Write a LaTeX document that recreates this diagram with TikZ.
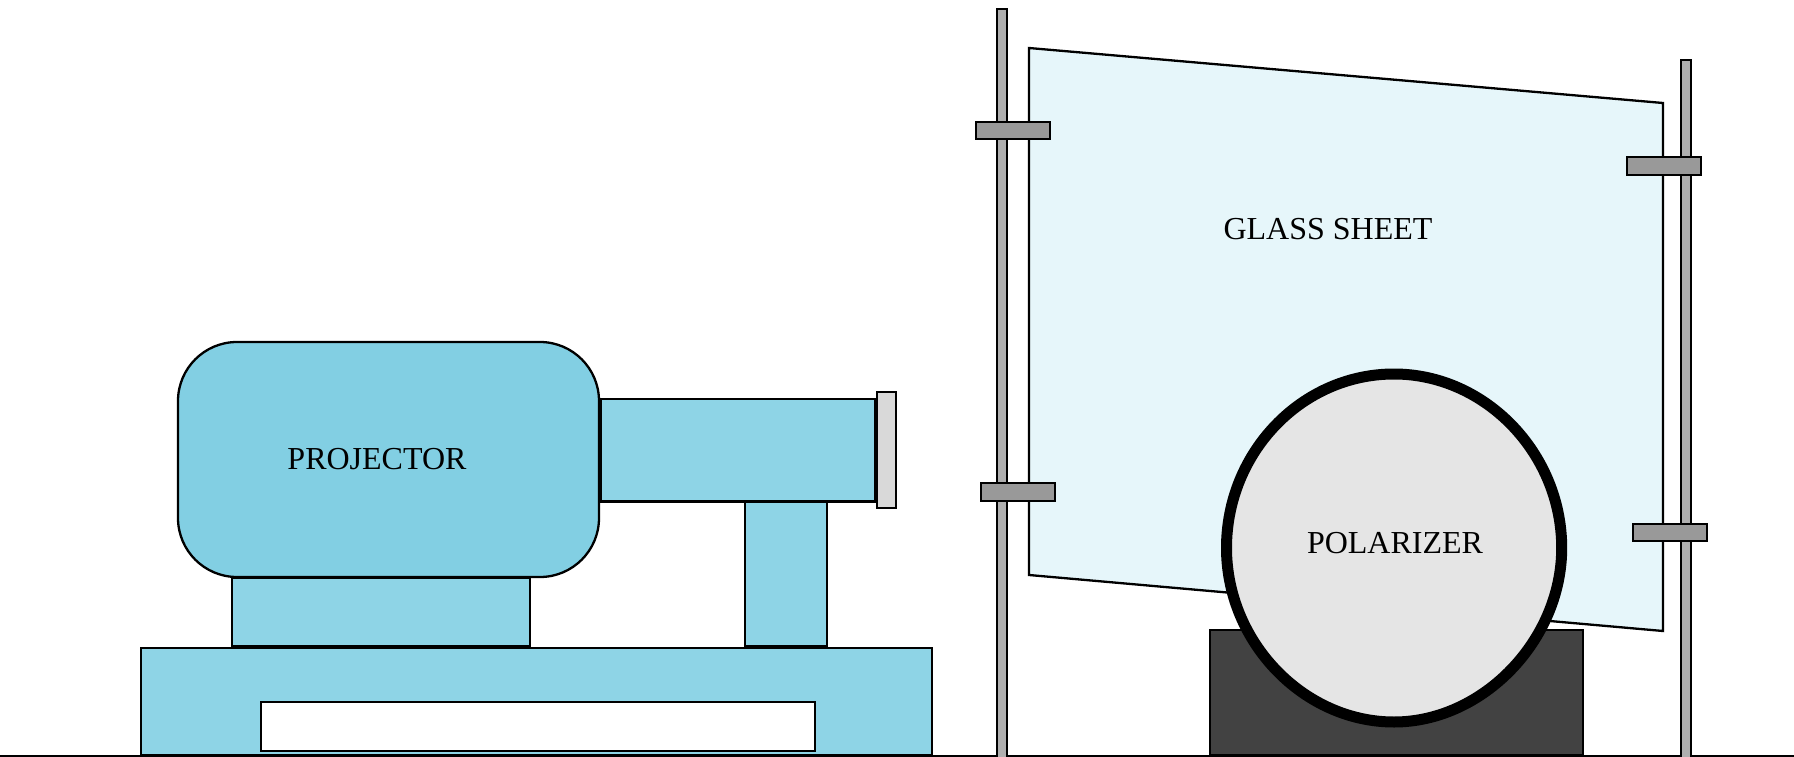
\documentclass[tikz,border=0pt]{standalone}
\usepackage{fontspec}
\setmainfont{Liberation Serif}
\definecolor{bodyblue}{HTML}{82CFE3}
\definecolor{partblue}{HTML}{8ED4E6}
\definecolor{glassblue}{HTML}{E6F6FA}
\definecolor{rodgrey}{HTML}{AFAFAF}
\definecolor{clampgrey}{HTML}{999999}
\definecolor{lensgrey}{HTML}{D9D9D9}
\definecolor{polgrey}{HTML}{E5E5E5}
\definecolor{standgrey}{HTML}{424242}
\tikzset{
  x=1pt,y=-1pt,
  part/.style={draw=black,line width=2.3pt,fill=partblue},
  rod/.style={draw=black,line width=2.3pt,fill=rodgrey},
  clamp/.style={draw=black,line width=2.3pt,fill=clampgrey},
  lab/.style={font=\fontsize{32}{36}\selectfont,text=black,inner sep=0pt,anchor=base},
}
\begin{document}
\begin{tikzpicture}
\useasboundingbox (0,0) rectangle (1794,757);
\draw[black,line width=2.5pt] (0,755.8) -- (1794,755.8);
% glass
\draw[draw=black,line width=2.3pt,fill=glassblue] (1029,48) -- (1663,103) -- (1663,631) -- (1029,575) -- cycle;
% rods
\draw[rod] (997,9) rectangle (1007,760);
\draw[rod] (1681,60) rectangle (1691,760);
% clamps
\draw[clamp] (976,122) rectangle (1050,139);
\draw[clamp] (981,483) rectangle (1055,501);
\draw[clamp] (1627,157) rectangle (1701,175);
\draw[clamp] (1633,524) rectangle (1707,541);
% projector
\draw[part] (141,648) rectangle (932,755);
\draw[draw=black,line width=2.3pt,fill=white] (261,702) rectangle (815,751);
\draw[part] (232,578) rectangle (530,646);
\draw[part] (745,501.5) rectangle (827,646);
\draw[part] (601,399) rectangle (875,501.5);
\draw[draw=black,line width=2.3pt,fill=lensgrey] (877,392) rectangle (896,508);
\draw[draw=black,line width=2.3pt,fill=bodyblue,rounded corners=59pt] (178,342) rectangle (599,577);
% polarizer
\draw[draw=black,line width=2.3pt,fill=standgrey] (1210,630) rectangle (1583,755);
\draw[draw=black,line width=11pt,fill=polgrey] (1394,374)
  .. controls (1485.2,374) and (1561.7,453.2) .. (1561.7,548)
  .. controls (1561.7,640.2) and (1482.8,722) .. (1394,722)
  .. controls (1303.5,722) and (1226.5,642) .. (1226.5,548)
  .. controls (1226.5,452.3) and (1301.8,374) .. (1394,374) -- cycle;
\node[lab] (projector) at (377,469) {PROJECTOR};
\node[lab] (glass) at (1328,239) {GLASS SHEET};
\node[lab] (polarizer) at (1395,553) {POLARIZER};
\end{tikzpicture}
\end{document}
